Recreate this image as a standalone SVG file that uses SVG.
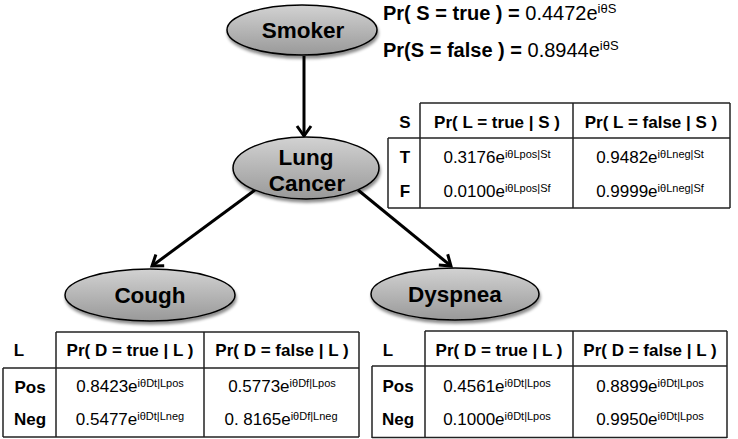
<svg xmlns="http://www.w3.org/2000/svg" width="738" height="439" viewBox="0 0 738 439">
<style>
text{font-family:"Liberation Sans",Arial,Helvetica,sans-serif;fill:#000}
.node ellipse{fill:url(#g);stroke:#000;stroke-width:1.5;filter:url(#sh)}
.nl{font-size:22.5px;font-weight:bold;text-anchor:middle}
.top{font-size:20px}
.b{font-weight:bold}
.hd{font-size:17px;font-weight:bold;text-anchor:middle}
.v{font-size:17px;text-anchor:middle}
.sup{font-size:11px}
.tsup{font-size:13px}
.grid line{stroke:#222;stroke-width:1.5}
.edge{stroke:#000;stroke-width:3;fill:none;marker-end:url(#ah)}
</style>
<defs>
<linearGradient id="g" x1="0" y1="0" x2="0" y2="1">
<stop offset="0" stop-color="#d2d2d2"/>
<stop offset="1" stop-color="#999999"/>
</linearGradient>
<filter id="sh" x="-20%" y="-20%" width="140%" height="150%">
<feDropShadow dx="1" dy="3" stdDeviation="1.5" flood-color="#000" flood-opacity="0.45"/>
</filter>
<marker id="ah" markerUnits="userSpaceOnUse" markerWidth="18" markerHeight="18" viewBox="0 0 18 18" refX="14" refY="9" orient="auto">
<path d="M4,2 L14,9 L4,16" fill="none" stroke="#000" stroke-width="3"/>
</marker>
</defs>

<g id="connectors">
<line class="edge" x1="304" y1="56" x2="304" y2="136"/>
<line class="edge" x1="255" y1="190" x2="152" y2="266"/>
<line class="edge" x1="358" y1="190" x2="451" y2="266"/>
</g>

<g id="smoker" class="node">
<ellipse cx="302" cy="30" rx="75" ry="25"/>
<text class="nl" x="303" y="38">Smoker</text>
</g>
<g id="lung-cancer" class="node">
<ellipse cx="306" cy="168" rx="73" ry="31"/>
<text class="nl" x="306" y="165">Lung</text>
<text class="nl" x="307" y="191">Cancer</text>
</g>
<g id="cough" class="node">
<ellipse cx="150" cy="295" rx="85" ry="26"/>
<text class="nl" x="150" y="303">Cough</text>
</g>
<g id="dyspnea" class="node">
<ellipse cx="455" cy="294" rx="84" ry="26"/>
<text class="nl" x="455" y="302">Dyspnea</text>
</g>

<g id="smoker-prior">
<text class="top" x="383" y="20"><tspan class="b">Pr( S = true ) = </tspan>0.4472e<tspan class="tsup" dy="-7">iθS</tspan></text>
<text class="top" x="383" y="57"><tspan class="b">Pr(S = false ) = </tspan>0.8944e<tspan class="tsup" dy="-7">iθS</tspan></text>
</g>

<g id="table-lung">
<g class="grid">
<line x1="420" y1="103" x2="730" y2="103"/>
<line x1="420" y1="103" x2="420" y2="208"/>
<line x1="573" y1="103" x2="573" y2="208"/>
<line x1="730" y1="103" x2="730" y2="208"/>
<line x1="388" y1="138" x2="730" y2="138"/>
<line x1="388" y1="138" x2="388" y2="208"/>
<line x1="388" y1="208" x2="730" y2="208"/>
</g>
<text class="hd" x="405" y="128">S</text>
<text class="hd" x="497" y="128">Pr( L = true | S )</text>
<text class="hd" x="651" y="128">Pr( L = false | S )</text>
<text class="hd" x="405" y="163">T</text>
<text class="v" x="497" y="163">0.3176e<tspan class="sup" dy="-5">iθLpos|St</tspan></text>
<text class="v" x="650" y="163">0.9482e<tspan class="sup" dy="-5">iθLneg|St</tspan></text>
<text class="hd" x="405" y="197">F</text>
<text class="v" x="497" y="197">0.0100e<tspan class="sup" dy="-5">iθLpos|Sf</tspan></text>
<text class="v" x="650" y="197">0.9999e<tspan class="sup" dy="-5">iθLneg|Sf</tspan></text>
</g>

<g id="table-cough">
<g class="grid">
<line x1="56" y1="332" x2="359" y2="332"/>
<line x1="56" y1="332" x2="56" y2="437"/>
<line x1="204" y1="332" x2="204" y2="437"/>
<line x1="359" y1="332" x2="359" y2="437"/>
<line x1="3" y1="368" x2="359" y2="368"/>
<line x1="3" y1="368" x2="3" y2="437"/>
<line x1="3" y1="437" x2="359" y2="437"/>
</g>
<text class="hd" x="19" y="356">L</text>
<text class="hd" x="130" y="356">Pr( D = true | L )</text>
<text class="hd" x="282" y="356">Pr( D = false | L )</text>
<text class="hd" x="30" y="393">Pos</text>
<text class="v" x="130" y="392">0.8423e<tspan class="sup" dy="-5">iθDt|Lpos</tspan></text>
<text class="v" x="282" y="392">0.5773e<tspan class="sup" dy="-5">iθDf|Lpos</tspan></text>
<text class="hd" x="30" y="425">Neg</text>
<text class="v" x="130" y="425">0.5477e<tspan class="sup" dy="-5">iθDt|Lneg</tspan></text>
<text class="v" x="281" y="425">0. 8165e<tspan class="sup" dy="-5">iθDf|Lneg</tspan></text>
</g>

<g id="table-dyspnea">
<g class="grid">
<line x1="425" y1="331" x2="727" y2="331"/>
<line x1="425" y1="331" x2="425" y2="438"/>
<line x1="573" y1="331" x2="573" y2="438"/>
<line x1="727" y1="331" x2="727" y2="438"/>
<line x1="372" y1="366" x2="727" y2="366"/>
<line x1="372" y1="366" x2="372" y2="438"/>
<line x1="372" y1="437.5" x2="727" y2="437.5"/>
</g>
<text class="hd" x="388" y="356">L</text>
<text class="hd" x="499" y="356">Pr( D = true | L )</text>
<text class="hd" x="650" y="356">Pr( D = false | L )</text>
<text class="hd" x="398" y="392">Pos</text>
<text class="v" x="497" y="392">0.4561e<tspan class="sup" dy="-5">iθDt|Lpos</tspan></text>
<text class="v" x="650" y="392">0.8899e<tspan class="sup" dy="-5">iθDt|Lpos</tspan></text>
<text class="hd" x="398" y="425">Neg</text>
<text class="v" x="497" y="425">0.1000e<tspan class="sup" dy="-5">iθDt|Lpos</tspan></text>
<text class="v" x="650" y="425">0.9950e<tspan class="sup" dy="-5">iθDt|Lpos</tspan></text>
</g>
</svg>
